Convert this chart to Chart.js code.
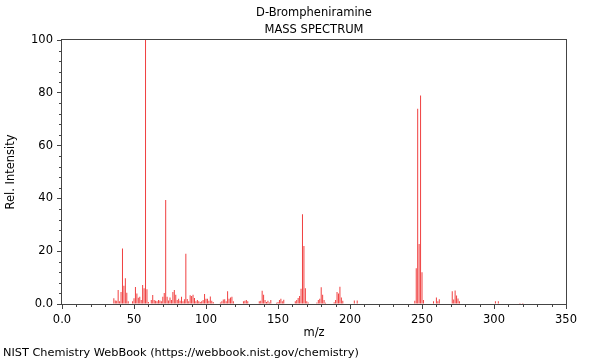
<!DOCTYPE html>
<html>
<head>
<meta charset="utf-8">
<script src="https://cdn.jsdelivr.net/npm/chart.js@4"></script>
<style>
  html, body { margin: 0; padding: 0; background: #fff; }
  #wrap { width: 600px; height: 360px; }
</style>
</head>
<body>
<div id="wrap"><canvas id="msChart" width="600" height="360"></canvas></div>
<script>
// ---- DATA ----
const titleLines = ['D-Brompheniramine', 'MASS SPECTRUM'];
const xTitle = 'm/z';
const yTitle = 'Rel. Intensity';
const footer = 'NIST Chemistry WebBook (https://webbook.nist.gov/chemistry)';

const mz = [
  36, 37, 38, 39, 40, 41, 42, 43, 44, 45, 46,
  49, 50, 51, 52, 53, 54, 55, 56, 57, 58, 59, 60,
  62, 63, 64, 65, 66, 67, 68, 69, 70, 71, 72, 73, 74, 75, 76, 77, 78, 79,
  80, 81, 82, 83, 84, 85, 86, 87, 88, 89, 90, 91, 92, 93, 94, 95, 96, 97, 98, 99,
  100, 101, 102, 103, 104, 105,
  110, 111, 112, 113, 114, 115, 116, 117, 118, 119,
  126, 127, 128, 129,
  137, 138, 139, 140, 141, 142, 143, 144, 145,
  149, 150, 151, 152, 153, 154,
  162, 163, 164, 165, 166, 167, 168, 169, 170, 171,
  177, 178, 179, 180, 181, 182, 183,
  189, 190, 191, 192, 193, 194, 195,
  203, 205,
  245, 246, 247, 248, 249, 250, 251,
  258, 260, 261, 262,
  271, 272, 273, 274, 275, 276,
  301, 303, 318, 320
];
const intensity = [
  2.2, 1.3, 1.2, 5.3, 1.0, 4.5, 21.0, 6.9, 9.8, 4.3, 1.0,
  1.0, 2.2, 6.4, 4.0, 2.4, 2.7, 1.5, 7.2, 6.0, 100, 5.6, 0.8,
  1.5, 3.4, 1.5, 1.2, 1.0, 1.5, 1.3, 1.0, 2.7, 4.2, 39.4, 2.7, 1.3, 2.5, 1.5, 4.5, 5.3, 3.5,
  1.5, 2.0, 1.2, 2.7, 1.0, 1.8, 19.0, 1.9, 1.0, 3.3, 3.0, 3.5, 2.3, 1.0, 1.5, 1.0, 0.8, 1.0, 1.5, 3.8,
  2.0, 2.0, 1.2, 2.8, 1.2, 0.8,
  0.6, 1.0, 1.7, 1.8, 1.0, 4.8, 2.0, 2.5, 2.7, 1.0,
  1.0, 1.2, 1.5, 1.0,
  1.0, 1.2, 5.0, 3.5, 1.5, 0.8, 1.2, 0.6, 1.5,
  0.5, 0.8, 1.5, 2.0, 1.0, 1.6,
  1.0, 1.5, 2.3, 3.0, 5.8, 34.0, 22.0, 6.0, 1.0, 0.6,
  0.6, 1.5, 2.0, 6.3, 3.5, 1.5, 0.5,
  0.7, 1.5, 4.5, 4.0, 6.5, 2.5, 1.2,
  1.3, 1.3,
  1.2, 13.5, 74.0, 22.7, 79.0, 12.0, 1.5,
  1.0, 2.5, 1.0, 1.8,
  4.8, 1.7, 5.1, 3.2, 2.1, 1.0,
  1.0, 1.0, 0.4, 0.4
];

const xTicks = [0, 50, 100, 150, 200, 250, 300, 350];
const yTicks = [0, 20, 40, 60, 80, 100];

// ---- PLUGIN: frame, minor ticks, texts ----
const frameAndText = {
  id: 'frameAndText',
  afterDraw(chart) {
    const { ctx, chartArea: a, scales: { x, y } } = chart;
    ctx.save();
    ctx.strokeStyle = '#444';
    ctx.lineWidth = 1;
    ctx.strokeRect(a.left - 0.5, a.top - 0.5, a.right - a.left + 1, a.bottom - a.top + 1);

    // minor ticks
    ctx.beginPath();
    for (let v = 10; v < 350; v += 10) {
      if (v % 50 === 0) continue;
      const px = Math.round(x.getPixelForValue(v)) + 0.5;
      ctx.moveTo(px, a.bottom);
      ctx.lineTo(px, a.bottom + 3);
    }
    for (let v = 4; v < 100; v += 4) {
      if (v % 20 === 0) continue;
      const py = Math.round(y.getPixelForValue(v)) + 0.5;
      ctx.moveTo(a.left, py);
      ctx.lineTo(a.left - 3, py);
    }
    ctx.stroke();

    // texts
    ctx.fillStyle = '#000';
    ctx.font = '11.5px "DejaVu Sans"';
    ctx.textBaseline = 'middle';
    ctx.textAlign = 'center';
    const cx = (a.left + a.right) / 2;
    ctx.fillText(titleLines[0], cx, 13);
    ctx.fillText(titleLines[1], cx, 30);
    ctx.fillText(xTitle, cx, 333);
    ctx.font = '11.3px "DejaVu Sans"';
    ctx.textAlign = 'left';
    ctx.fillText(footer, 3, 353);
    ctx.font = '11.5px "DejaVu Sans"';
    ctx.translate(11, (a.top + a.bottom) / 2);
    ctx.rotate(-Math.PI / 2);
    ctx.textAlign = 'center';
    ctx.fillText(yTitle, 0, 0);
    ctx.restore();
  }
};

// ---- CHART ----
const ctx = document.getElementById('msChart').getContext('2d');
const fmt = v => (v === 0 ? '0.0' : String(v));

new Chart(ctx, {
  type: 'bar',
  data: {
    datasets: [{
      data: mz.map((m, i) => ({ x: m, y: intensity[i] })),
      backgroundColor: '#f04040',
      borderWidth: 0,
      barThickness: 1,
      inflateAmount: 0,
      grouped: false
    }]
  },
  options: {
    responsive: false,
    animation: false,
    devicePixelRatio: 1,
    layout: { padding: { top: 40, right: 34, bottom: 0, left: 0 } },
    plugins: {
      legend: { display: false },
      tooltip: { enabled: false }
    },
    scales: {
      x: {
        type: 'linear',
        min: 0,
        max: 350,
        offset: false,
        afterFit: s => { s.height = 56; },
        afterBuildTicks: s => { s.ticks = xTicks.map(v => ({ value: v })); },
        ticks: {
          color: '#000',
          font: { family: 'DejaVu Sans', size: 11.5 },
          padding: 4,
          maxRotation: 0,
          autoSkip: false,
          callback: fmt
        },
        grid: { drawOnChartArea: false, drawTicks: true, tickLength: 5, color: '#444', offset: false },
        border: { display: false }
      },
      y: {
        min: 0,
        max: 100,
        afterFit: s => { s.width = 62; },
        afterBuildTicks: s => { s.ticks = yTicks.map(v => ({ value: v })); },
        ticks: {
          color: '#000',
          font: { family: 'DejaVu Sans', size: 11.5 },
          padding: 4,
          autoSkip: false,
          callback: fmt
        },
        grid: { drawOnChartArea: false, drawTicks: true, tickLength: 5, color: '#444' },
        border: { display: false }
      }
    }
  },
  plugins: [frameAndText]
});
</script>
</body>
</html>
